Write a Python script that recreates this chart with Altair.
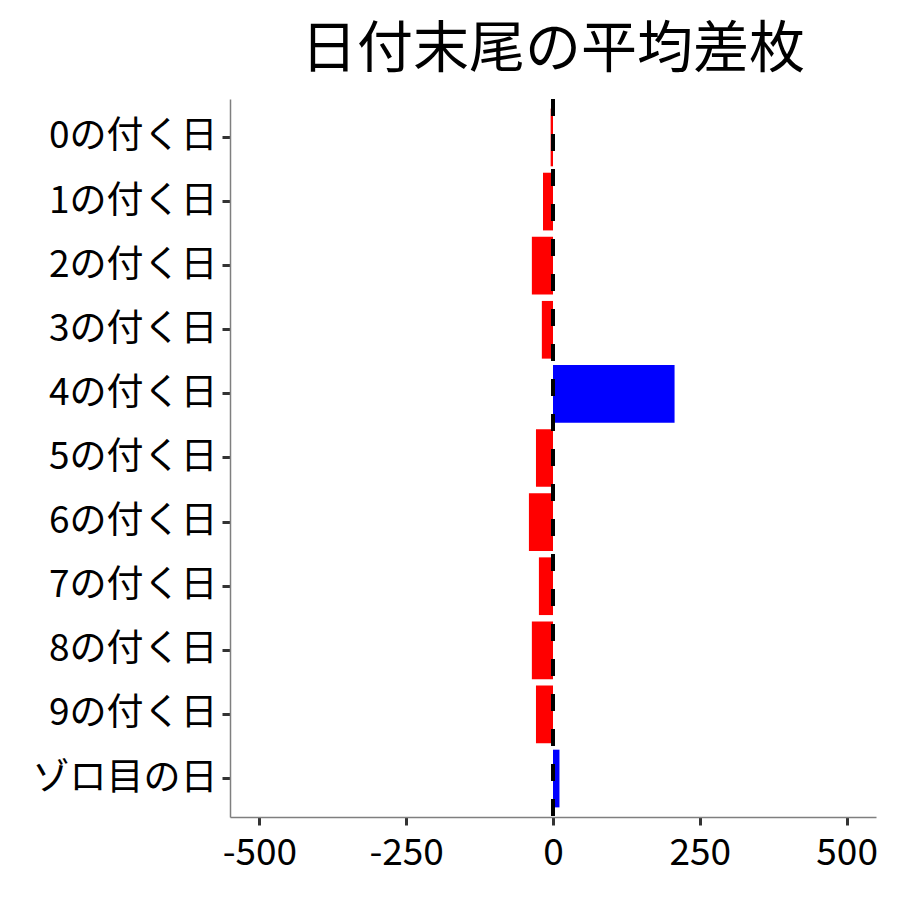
import altair as alt
import pandas as pd

categories = ["0の付く日", "1の付く日", "2の付く日", "3の付く日", "4の付く日",
              "5の付く日", "6の付く日", "7の付く日", "8の付く日", "9の付く日", "ゾロ目の日"]
values = [-4, -17, -36, -19, 207, -29, -41, -24, -36, -29, 11]
signs = ["neg" if v < 0 else "pos" for v in values]

df = pd.DataFrame({"cat": categories, "value": values, "sign": signs})
FONT = "Noto Sans CJK JP"

y_enc = alt.Y("cat:N", sort=categories, title=None,
              scale=alt.Scale(paddingInner=0.1, paddingOuter=0.15),
              axis=alt.Axis(labelFont=FONT, labelFontSize=37, labelColor="black",
                            labelLimit=400,
                            domainColor="#7f7f7f", domainWidth=1.5,
                            tickColor="#333333", tickWidth=3, tickSize=8,
                            labelPadding=5))
x_enc = alt.X("value:Q", title=None,
              scale=alt.Scale(domain=[-550, 550], nice=False, zero=False),
              axis=alt.Axis(values=[-500, -250, 0, 250, 500], grid=False,
                            labelExpr="datum.value < 0 ? '-' + abs(datum.value) : '' + datum.value",
                            labelFont=FONT, labelFontSize=37, labelColor="black",
                            domainColor="#7f7f7f", domainWidth=1.5,
                            tickColor="#333333", tickWidth=3, tickSize=8,
                            labelPadding=10))

bars = alt.Chart(df).mark_bar().encode(
    x=x_enc,
    x2=alt.datum(0),
    y=y_enc,
    color=alt.Color("sign:N", scale=alt.Scale(domain=["neg", "pos"], range=["#FF0000", "#0000FF"]),
                    legend=None),
)

vline = alt.Chart(pd.DataFrame({"z": [0]})).mark_rule(
    color="black", strokeWidth=4, strokeDash=[17, 18]
).encode(x=alt.X("z:Q"))

chart = alt.layer(bars, vline).properties(
    width=646, height=718,
    title=alt.TitleParams("日付末尾の平均差枚", font=FONT, fontSize=56, fontWeight="normal",
                          color="black", anchor="middle", offset=18),
    padding={"left": 24, "top": 14, "right": 10, "bottom": 5},
).configure_view(stroke=None)

chart.save("out.html", embed_options={"renderer": "svg", "actions": False})
